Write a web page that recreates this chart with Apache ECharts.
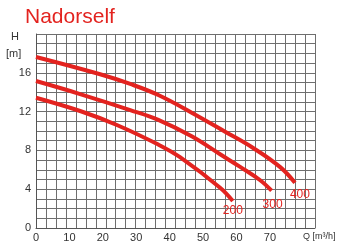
<!DOCTYPE html>
<html><head><meta charset="utf-8">
<script src="https://cdn.jsdelivr.net/npm/echarts@6/dist/echarts.min.js"></script>
<style>html,body{margin:0;padding:0;background:#fff}#c{width:355px;height:251px}</style>
</head><body><div id="c"></div>
<script>
// Data
const seriesNames = ['200', '300', '400'];
const q200 = [0, 13.2, 24.2, 36.6, 43.1, 55.1, 58.9];
const h200 = [13.43, 12.06, 10.62, 8.6, 7.3, 4.15, 2.78];
const q300 = [0, 13.2, 28.2, 36.6, 46.6, 55.1, 61.1, 67.0, 70.5];
const h300 = [15.15, 13.81, 12.16, 11.15, 9.45, 7.6, 6.3, 4.95, 3.85];
const q400 = [0, 19.2, 28.2, 36.6, 46.6, 56.6, 65.0, 73.0, 77.5];
const h400 = [17.63, 15.85, 14.85, 13.71, 11.89, 9.93, 8.25, 6.3, 4.67];
const xTickLabels = [0, 10, 20, 30, 40, 50, 60, 70];
const yTickLabels = [0, 4, 8, 12, 16];

const FONT = '"Liberation Sans", Arial, Helvetica, sans-serif';
const RED = '#e3231f';
const labelOffsets = [[0, 4], [1, 8], [5, 6]];
const allQ = [q200, q300, q400];
const allH = [h200, h300, h400];

const chart = echarts.init(document.getElementById('c'), null, { renderer: 'canvas' });
chart.setOption({
  animation: false,
  backgroundColor: '#fff',
  title: {
    text: 'Nadorself', left: 25, top: 7, padding: 0,
    textStyle: { color: RED, fontSize: 21, fontWeight: 'normal', fontFamily: FONT }
  },
  grid: { left: 36, right: 40, top: 34, bottom: 23, containLabel: false },
  xAxis: [
    {
      type: 'value', min: 0, max: 83.5,
      axisLine: { show: true, lineStyle: { color: '#555', width: 1 } },
      axisTick: { show: false },
      splitLine: { show: false },
      axisLabel: {
        customValues: xTickLabels, margin: 4,
        color: '#333', fontSize: 11, fontFamily: FONT
      }
    },
    {
      type: 'value', min: 0, max: 28, interval: 1, position: 'bottom',
      axisLine: { show: false }, axisTick: { show: false }, axisLabel: { show: false },
      splitLine: { show: true, lineStyle: { color: '#6e6e6e', width: 1 } }
    }
  ],
  yAxis: {
    type: 'value', min: 0, max: 20, interval: 1,
    axisLine: { show: true, lineStyle: { color: '#555', width: 1 } },
    axisTick: { show: false },
    splitLine: { show: true, lineStyle: { color: '#6e6e6e', width: 1 } },
    axisLabel: {
      customValues: yTickLabels, margin: 5,
      color: '#333', fontSize: 11, fontFamily: FONT
    }
  },
  graphic: [
    { type: 'text', left: 11, top: 31, style: { text: 'H', fill: '#333', font: '11px ' + FONT } },
    { type: 'text', left: 6, top: 48, style: { text: '[m]', fill: '#333', font: '11px ' + FONT } },
    { type: 'text', left: 303, top: 232, style: { text: 'Q [m³/h]', fill: '#333', font: '9px ' + FONT } }
  ],
  series: seriesNames.map((name, k) => ({
    name: name, type: 'line', xAxisIndex: 0, yAxisIndex: 0,
    smooth: 0.4, symbol: 'none',
    lineStyle: { color: RED, width: 4 },
    itemStyle: { color: RED },
    endLabel: {
      show: true, formatter: name, distance: 0,
      align: 'center', verticalAlign: 'top',
      offset: labelOffsets[k],
      color: RED, fontSize: 12, fontFamily: FONT
    },
    data: allQ[k].map((q, i) => [q, allH[k][i]])
  }))
});
</script></body></html>
